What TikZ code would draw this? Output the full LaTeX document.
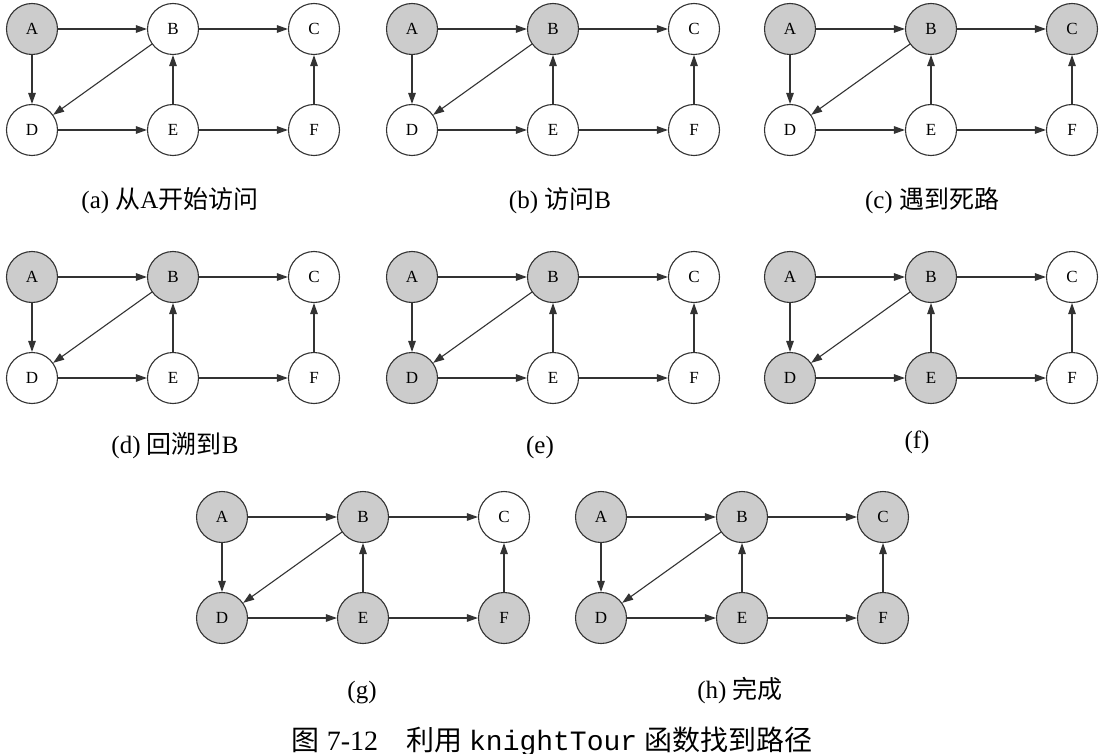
\documentclass[tikz,border=0pt]{standalone}
\usepackage{fontspec}
\setmainfont{Liberation Serif}
\setmonofont{Liberation Mono}
\newfontfamily\cjk{Noto Sans CJK SC}
\usetikzlibrary{arrows.meta}
\definecolor{vis}{HTML}{CCCCCC}
\definecolor{ink}{HTML}{333333}
\tikzset{
  vtx/.style={circle, draw=ink, line width=1.1pt, minimum size=51pt, inner sep=0pt,
    font=\fontsize{17}{17}\selectfont},
  edge/.style={draw=ink, line width=1.1pt, -{Triangle[length=11pt,width=7.5pt]}},
  captxt/.style={font=\fontsize{25}{25}\selectfont, anchor=base},
  pics/graph/.style n args={6}{code={
    \node[vtx, fill=#1] (-A) at (0,0) {A};
    \node[vtx, fill=#2] (-B) at (141,0) {B};
    \node[vtx, fill=#3] (-C) at (282,0) {C};
    \node[vtx, fill=#4] (-D) at (0,101) {D};
    \node[vtx, fill=#5] (-E) at (141,101) {E};
    \node[vtx, fill=#6] (-F) at (282,101) {F};
    \draw[edge] (-A) -- (-B);
    \draw[edge] (-B) -- (-C);
    \draw[edge] (-A) -- (-D);
    \draw[edge] (-B) -- (-D);
    \draw[edge] (-D) -- (-E);
    \draw[edge] (-E) -- (-B);
    \draw[edge] (-E) -- (-F);
    \draw[edge] (-F) -- (-C);
  }}
}
\begin{document}
\begin{tikzpicture}[x=1pt, y=-1pt]
\useasboundingbox[fill=white] (0,0) rectangle (1102,754);
\pic (a) at (32,29)  {graph={vis}{white}{white}{white}{white}{white}};
\pic (b) at (412,29) {graph={vis}{vis}{white}{white}{white}{white}};
\pic (c) at (790,29) {graph={vis}{vis}{vis}{white}{white}{white}};
\pic (d) at (32,277)  {graph={vis}{vis}{white}{white}{white}{white}};
\pic (e) at (412,277) {graph={vis}{vis}{white}{vis}{white}{white}};
\pic (f) at (790,277) {graph={vis}{vis}{white}{vis}{vis}{white}};
\pic (g) at (222,517) {graph={vis}{vis}{white}{vis}{vis}{vis}};
\pic (h) at (601,517) {graph={vis}{vis}{vis}{vis}{vis}{vis}};
\node[captxt] (capa) at (170,208) {(a) {\cjk 从}A{\cjk 开始访问}};
\node[captxt] (capb) at (560,208) {(b) {\cjk 访问}B};
\node[captxt] (capc) at (932,208) {(c) {\cjk 遇到死路}};
\node[captxt] (capd) at (175,453) {(d) {\cjk 回溯到}B};
\node[captxt] (cape) at (540,453) {(e)};
\node[captxt] (capf) at (917,448) {(f)};
\node[captxt] (capg) at (362,698) {(g)};
\node[captxt] (caph) at (740,698) {(h) {\cjk 完成}};
\node[font=\fontsize{28}{28}\selectfont, anchor=base] (title) at (552,750)
  {{\cjk 图} 7-12\hspace{1em}{\cjk 利用} \texttt{knightTour} {\cjk 函数找到路径}};
\end{tikzpicture}
\end{document}
